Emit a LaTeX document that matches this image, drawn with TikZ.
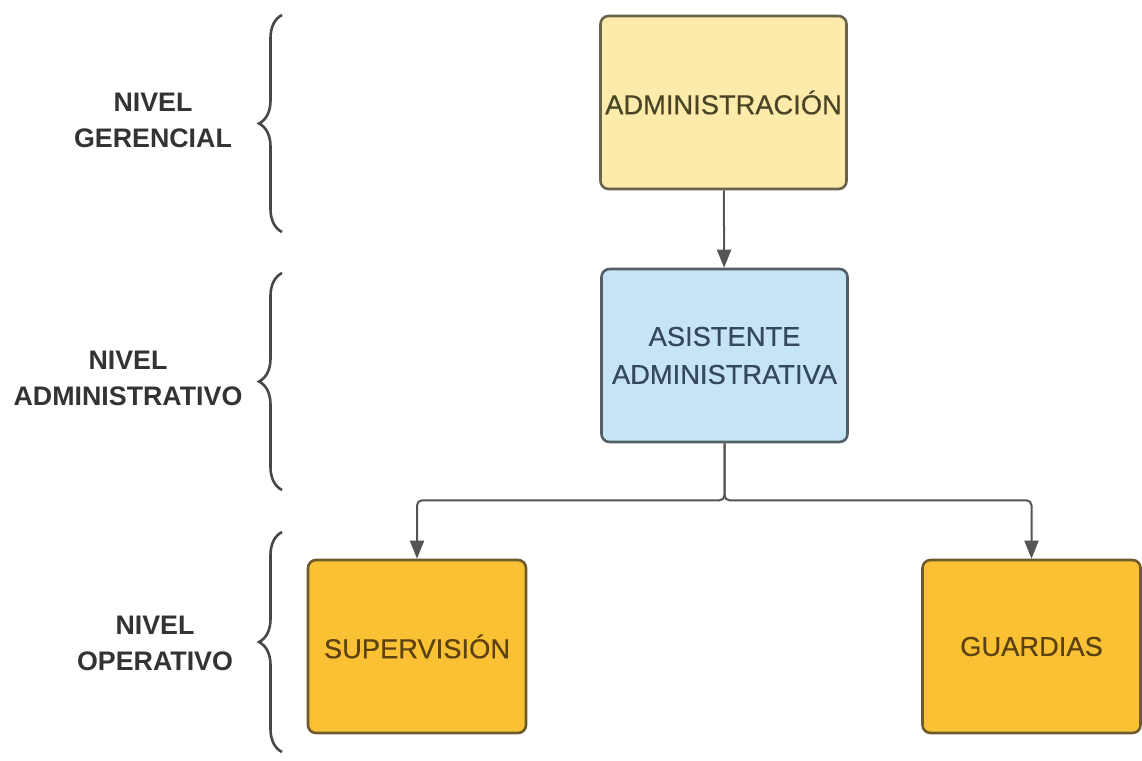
\documentclass[tikz,border=0pt]{standalone}
\usepackage{fontspec}
\setmainfont{Liberation Sans}
\newfontfamily\unitfont[FakeBold=0.5]{Liberation Sans}
\usetikzlibrary{arrows.meta,positioning,decorations.pathreplacing}

\definecolor{gerFill}{HTML}{FCEBAB}
\definecolor{gerLine}{HTML}{6A634C}
\definecolor{gerText}{HTML}{4A4426}
\definecolor{admFill}{HTML}{C6E4F6}
\definecolor{admLine}{HTML}{535E66}
\definecolor{admText}{HTML}{34495A}
\definecolor{opeFill}{HTML}{F9C133}
\definecolor{opeLine}{HTML}{6E5A2C}
\definecolor{opeText}{HTML}{5C4210}
\definecolor{linkGray}{HTML}{555555}
\definecolor{braceGray}{HTML}{484848}

\begin{document}
\begin{tikzpicture}[
  x=1pt, y=-1pt,
  unit/.style={draw, rounded corners=8pt, line width=2.6pt, minimum width=246pt,
    minimum height=173pt, inner sep=0pt, align=center, font=\unitfont\fontsize{27.3}{38}\selectfont},
  gerencia/.style={unit, fill=gerFill, draw=gerLine, text=gerText},
  asistencia/.style={unit, fill=admFill, draw=admLine, text=admText},
  operacion/.style={unit, fill=opeFill, draw=opeLine, text=opeText, minimum width=218pt},
  level/.style={align=center, text=black!80, font=\bfseries\fontsize{26.8}{36}\selectfont},
  link/.style={-{Triangle[length=18pt, width=14pt]}, line width=2pt, draw=linkGray, rounded corners=5pt},
  curly/.style={decorate, decoration={brace, amplitude=23pt}, line width=2.6pt, draw=braceGray}
]
  \useasboundingbox (0,0) rectangle (1142,760);

  % Units of the organisation chart
  \node[gerencia] (admin) at (723.5,102.5) {ADMINISTRACIÓN};
  \node[asistencia] (asist) at (724.5,355.5) {ASISTENTE\\ADMINISTRATIVA};
  \node[operacion] (superv) at (417,646.5) {SUPERVISIÓN};
  \node[operacion] (guard) at (1031.5,646.5) {GUARDIAS};

  % Levels on the left
  \node[level] (lvger) at (153,120) {NIVEL\\GERENCIAL};
  \node[level] (lvadm) at (128,378) {NIVEL\\ADMINISTRATIVO};
  \node[level] (lvope) at (155,643) {NIVEL\\OPERATIVO};

  % Braces (drawn bottom to top, tip to the left)
  \draw[curly] (282,232) -- (282,15);
  \draw[curly] (282,490) -- (282,273);
  \draw[curly] (282,752) -- (282,532);

  % Connectors
  \draw[link] (admin) -- (asist);
  \path (asist.south) ++(0,57) coordinate (split);
  \draw[link] (asist.south) -- (split) -| (superv.north);
  \draw[link] (asist.south) -- (split) -| (guard.north);
\end{tikzpicture}
\end{document}
